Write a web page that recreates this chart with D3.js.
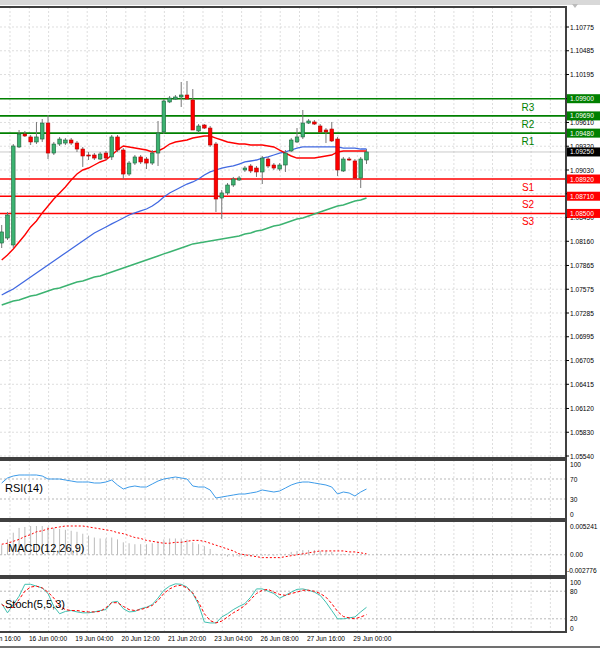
<!DOCTYPE html>
<html><head><meta charset="utf-8">
<script src="https://cdn.jsdelivr.net/npm/d3@7"></script>
<style>body{margin:0;background:#fff}svg{display:block;font-family:"Liberation Sans",Arial,sans-serif}</style>
</head><body>
<script>
// H4 candles
const openP = [1.08139,1.08200,1.08115,1.09311,1.09469,1.09433,1.09372,1.09408,1.09603,1.09237,1.09347,1.09359,1.09396,1.09359,1.09286,1.09213,1.09213,1.09164,1.09237,1.09189,1.09433,1.09274,1.08981,1.09115,1.09189,1.09164,1.09115,1.09237,1.09494,1.09860,1.09896,1.09921,1.09945,1.09884,1.09506,1.09579,1.09542,1.09347,1.08688,1.08750,1.08847,1.08908,1.09030,1.09079,1.09054,1.09006,1.09164,1.09091,1.09042,1.09091,1.09262,1.09372,1.09433,1.09603,1.09616,1.09567,1.09518,1.09530,1.09408,1.09018,1.09164,1.09140,1.08932,1.09152];
const highP = [1.08359,1.08518,1.09347,1.09518,1.09506,1.09457,1.09616,1.09652,1.09701,1.09372,1.09433,1.09420,1.09420,1.09384,1.09311,1.09250,1.09237,1.09250,1.09262,1.09457,1.09457,1.09298,1.09140,1.09213,1.09213,1.09189,1.09274,1.09628,1.09896,1.09933,1.09945,1.10104,1.10116,1.10018,1.09591,1.09591,1.09567,1.09372,1.08786,1.08871,1.08945,1.08957,1.09079,1.09103,1.09079,1.09201,1.09189,1.09115,1.09115,1.09274,1.09420,1.09542,1.09762,1.09652,1.09640,1.09591,1.09542,1.09616,1.09433,1.09189,1.09189,1.09164,1.09189,1.09286];
const lowP = [1.08078,1.08176,1.08078,1.09298,1.09433,1.09335,1.09347,1.09372,1.09164,1.09213,1.09323,1.09335,1.09335,1.09250,1.09067,1.09152,1.09152,1.09152,1.09152,1.09152,1.09250,1.08920,1.08957,1.09091,1.09103,1.09042,1.09091,1.09079,1.09469,1.09847,1.09884,1.09799,1.09896,1.09860,1.09481,1.09530,1.09311,1.08518,1.08432,1.08725,1.08823,1.08896,1.09006,1.08993,1.08945,1.08859,1.09054,1.09030,1.09018,1.09006,1.09250,1.09359,1.09408,1.09591,1.09579,1.09481,1.09359,1.09372,1.08957,1.09006,1.09140,1.08920,1.08810,1.09103];
const closeP = [1.08274,1.08481,1.09323,1.09469,1.09445,1.09372,1.09433,1.09603,1.09237,1.09347,1.09408,1.09396,1.09359,1.09286,1.09201,1.09207,1.09176,1.09225,1.09176,1.09433,1.09274,1.08981,1.09115,1.09189,1.09128,1.09115,1.09237,1.09481,1.09872,1.09908,1.09921,1.09945,1.09896,1.09518,1.09567,1.09542,1.09335,1.08676,1.08750,1.08847,1.08920,1.08932,1.09054,1.09018,1.09006,1.09176,1.09079,1.09054,1.09091,1.09237,1.09396,1.09433,1.09603,1.09628,1.09591,1.09494,1.09494,1.09384,1.09030,1.09164,1.09158,1.08932,1.09164,1.09250];

// moving averages
const maRed = [1.07932,1.07993,1.08066,1.08152,1.08237,1.08335,1.08408,1.08506,1.08591,1.08676,1.08750,1.08823,1.08908,1.08981,1.09030,1.09054,1.09091,1.09128,1.09152,1.09213,1.09274,1.09323,1.09311,1.09298,1.09286,1.09274,1.09250,1.09262,1.09298,1.09347,1.09372,1.09384,1.09396,1.09420,1.09433,1.09445,1.09445,1.09420,1.09396,1.09372,1.09359,1.09347,1.09347,1.09335,1.09335,1.09335,1.09323,1.09311,1.09274,1.09237,1.09201,1.09176,1.09176,1.09176,1.09176,1.09189,1.09201,1.09213,1.09250,1.09262,1.09262,1.09262,1.09262,1.09262];
const maBlue = [1.07505,1.07542,1.07578,1.07627,1.07676,1.07725,1.07773,1.07822,1.07871,1.07920,1.07969,1.08018,1.08066,1.08115,1.08164,1.08213,1.08262,1.08298,1.08335,1.08372,1.08408,1.08444,1.08481,1.08506,1.08530,1.08554,1.08591,1.08640,1.08701,1.08750,1.08786,1.08823,1.08859,1.08884,1.08920,1.08969,1.09006,1.09030,1.09054,1.09067,1.09079,1.09103,1.09128,1.09140,1.09152,1.09176,1.09189,1.09213,1.09237,1.09250,1.09274,1.09298,1.09311,1.09311,1.09311,1.09311,1.09311,1.09311,1.09311,1.09298,1.09298,1.09298,1.09286,1.09286];
const maGreen = [1.07383,1.07408,1.07432,1.07444,1.07468,1.07493,1.07505,1.07530,1.07554,1.07578,1.07590,1.07615,1.07639,1.07664,1.07676,1.07700,1.07725,1.07737,1.07761,1.07786,1.07810,1.07834,1.07859,1.07883,1.07908,1.07932,1.07957,1.07981,1.08006,1.08030,1.08054,1.08079,1.08103,1.08128,1.08140,1.08152,1.08164,1.08176,1.08188,1.08200,1.08213,1.08225,1.08249,1.08262,1.08286,1.08298,1.08322,1.08347,1.08359,1.08383,1.08408,1.08432,1.08444,1.08469,1.08493,1.08518,1.08542,1.08566,1.08591,1.08603,1.08627,1.08652,1.08664,1.08688];

const rsi = [62,72,76,78,78,78,78,76,70,70,70,68,66,64,64,64,62,62,64,68,58,50,54,56,54,54,60,66,70,72,74,72,70,56,54,54,48,32,34,36,38,40,40,42,44,48,46,44,46,52,58,62,64,64,62,60,58,54,40,44,42,36,44,50];
const macdHist = [0.00175,0.00280,0.00402,0.00489,0.00507,0.00524,0.00524,0.00524,0.00507,0.00489,0.00472,0.00454,0.00437,0.00419,0.00384,0.00349,0.00314,0.00297,0.00297,0.00314,0.00280,0.00227,0.00210,0.00192,0.00192,0.00192,0.00210,0.00245,0.00280,0.00297,0.00297,0.00297,0.00280,0.00227,0.00192,0.00157,0.00105,0.00017,-0.00017,-0.00035,-0.00035,-0.00035,-0.00035,-0.00035,-0.00017,-0.00017,-0.00017,-0.00017,0,0.00017,0.00052,0.00070,0.00087,0.00087,0.00087,0.00070,0.00070,0.00052,0.00017,0.00017,0.00017,0,0,0];
const macdSignal = [0.00192,0.00210,0.00245,0.00280,0.00332,0.00367,0.00419,0.00437,0.00472,0.00489,0.00507,0.00524,0.00524,0.00524,0.00524,0.00507,0.00489,0.00472,0.00454,0.00437,0.00402,0.00384,0.00349,0.00314,0.00297,0.00262,0.00245,0.00227,0.00210,0.00210,0.00227,0.00227,0.00245,0.00262,0.00262,0.00245,0.00210,0.00175,0.00140,0.00105,0.00070,0.00017,0,-0.00017,-0.00035,-0.00052,-0.00052,-0.00052,-0.00052,-0.00035,-0.00017,0,0.00017,0.00035,0.00052,0.00070,0.00070,0.00070,0.00070,0.00070,0.00052,0.00052,0.00035,0.00017];
const stochMain = [53,33,51,69,95,95,91,87,75,47,31,36,38,35,33,33,35,38,40,56,58,42,35,36,42,45,51,65,82,91,96,95,89,75,51,13,11,11,24,31,40,47,53,67,85,85,80,75,65,71,78,84,85,82,78,71,56,38,20,20,22,24,35,45];
const stochSignal = [51,44,45,62,80,89,91,87,78,65,47,40,38,38,36,35,35,36,44,55,55,47,40,38,40,44,49,60,75,85,91,93,87,76,56,31,16,11,15,24,33,40,49,62,75,82,84,78,73,71,75,78,82,82,80,75,67,53,36,25,22,20,24,29];

const priceTicks = [1.10775,1.10485,1.10195,1.09900,1.09610,1.09320,1.09030,1.08740,1.08450,1.08160,1.07865,1.07575,1.07285,1.06995,1.06705,1.06415,1.06120,1.05830,1.05540];
const levels = [
  {name:"R3", v:1.09900, c:"#008000"}, {name:"R2", v:1.09690, c:"#008000"}, {name:"R1", v:1.09480, c:"#008000"},
  {name:"S1", v:1.08920, c:"#ff0000"}, {name:"S2", v:1.08710, c:"#ff0000"}, {name:"S3", v:1.08500, c:"#ff0000"}
];
const timeLabels = ["15 Jun 16:00","16 Jun 00:00","19 Jun 04:00","20 Jun 12:00","21 Jun 20:00","23 Jun 04:00","26 Jun 08:00","27 Jun 16:00","29 Jun 00:00"];

const W = 600, H = 648, axisX = 566;
const svg = d3.select("body").append("svg").attr("width", W).attr("height", H);

const x = d3.scaleLinear().domain([0, 63]).range([1.7, 366.5]);
const y = d3.scaleLinear().domain([1.05540, 1.10775]).range([456, 27]);
const yRsi = d3.scaleLinear().domain([0, 100]).range([514, 464]);
const yMacd = d3.scaleLinear().domain([-0.002776, 0.005241]).range([570, 526]);
const ySto = d3.scaleLinear().domain([0, 100]).range([628, 582]);

const panels = [[7, 458], [460, 519], [521, 576], [578, 632]];

// top strip
svg.append("rect").attr("x",0).attr("y",0).attr("width",W).attr("height",5).attr("fill","#d8d8d8");
svg.append("path").attr("d","M572,4 L578,4 L575,8 Z").attr("fill","#bbb");

const grid = svg.append("g").attr("stroke","#d0d0d0").attr("stroke-dasharray","2,2").attr("stroke-width",0.7);
for (let gx = 10; gx < axisX; gx += 19.3) {
  panels.forEach(p => grid.append("line").attr("x1",gx).attr("x2",gx).attr("y1",p[0]).attr("y2",p[1]));
}
priceTicks.forEach(t => grid.append("line").attr("x1",0).attr("x2",axisX).attr("y1",y(t)).attr("y2",y(t)));
[70,30].forEach(t => grid.append("line").attr("x1",0).attr("x2",axisX).attr("y1",yRsi(t)).attr("y2",yRsi(t)).attr("stroke","#999"));
grid.append("line").attr("x1",0).attr("x2",axisX).attr("y1",yMacd(0)).attr("y2",yMacd(0)).attr("stroke","#999");
[80,20].forEach(t => grid.append("line").attr("x1",0).attr("x2",axisX).attr("y1",ySto(t)).attr("y2",ySto(t)).attr("stroke","#999"));

// current price line
svg.append("line").attr("x1",0).attr("x2",axisX).attr("y1",y(closeP[63])).attr("y2",y(closeP[63])).attr("stroke","#bbb").attr("stroke-width",0.8);

// levels
levels.forEach(l => {
  svg.append("line").attr("x1",0).attr("x2",axisX).attr("y1",y(l.v)).attr("y2",y(l.v))
    .attr("stroke",l.c).attr("stroke-width",1.6);
  svg.append("text").attr("x",528).attr("y",y(l.v)+12).attr("text-anchor","middle")
    .attr("font-size",10).attr("fill",l.c).text(l.name);
});

// moving averages
const maLine = arr => d3.line().x((d,i)=>x(i)).y(d=>y(d))(arr);
svg.append("path").attr("d",maLine(maGreen)).attr("fill","none").attr("stroke","#3cb371").attr("stroke-width",1.5);
svg.append("path").attr("d",maLine(maBlue)).attr("fill","none").attr("stroke","#4169e1").attr("stroke-width",1.3);
svg.append("path").attr("d",maLine(maRed)).attr("fill","none").attr("stroke","#ff0000").attr("stroke-width",1.4);

// candles
const cg = svg.append("g");
openP.forEach((o,i) => {
  const c = closeP[i], up = c >= o;
  cg.append("line").attr("x1",x(i)).attr("x2",x(i)).attr("y1",y(highP[i])).attr("y2",y(lowP[i]))
    .attr("stroke","#777").attr("stroke-width",1);
  const top = y(Math.max(o,c)), bot = y(Math.min(o,c));
  cg.append("rect").attr("x",x(i)-1.8).attr("y",top).attr("width",3.6).attr("height",Math.max(1,bot-top))
    .attr("fill", up ? "#3cb371" : "#ff0000").attr("stroke", up ? "#1d5e3a" : "#b00000").attr("stroke-width",0.6);
});

// RSI
svg.append("path").attr("d",d3.line().x((d,i)=>x(i)).y(d=>yRsi(d))(rsi)).attr("fill","none").attr("stroke","#3d9be9").attr("stroke-width",1);
// MACD
macdHist.forEach((v,i) => svg.append("line").attr("x1",x(i)).attr("x2",x(i)).attr("y1",yMacd(0)).attr("y2",yMacd(v)).attr("stroke","#bbb").attr("stroke-width",1));
svg.append("path").attr("d",d3.line().x((d,i)=>x(i)).y(d=>yMacd(d))(macdSignal)).attr("fill","none").attr("stroke","#ff0000").attr("stroke-dasharray","2,2").attr("stroke-width",1);
// Stoch
svg.append("path").attr("d",d3.line().x((d,i)=>x(i)).y(d=>ySto(d))(stochMain)).attr("fill","none").attr("stroke","#40c0b0").attr("stroke-width",1);
svg.append("path").attr("d",d3.line().x((d,i)=>x(i)).y(d=>ySto(d))(stochSignal)).attr("fill","none").attr("stroke","#ff0000").attr("stroke-dasharray","3,2").attr("stroke-width",1);

// panel labels
const lab = (t,px,py) => svg.append("text").attr("x",px).attr("y",py).attr("font-size",11).attr("fill","#000").text(t);
lab("RSI(14)",5,492); lab("MACD(12,26,9)",8,552); lab("Stoch(5,5,3)",5,608);

// panel frames
svg.append("g").attr("fill","none").attr("stroke","#404040").attr("stroke-width",2)
  .selectAll("rect").data(panels).join("rect")
  .attr("x",-1).attr("y",d=>d[0]).attr("width",axisX+1).attr("height",d=>d[1]-d[0]);
svg.append("line").attr("x1",0).attr("x2",W).attr("y1",647).attr("y2",647).attr("stroke","#404040").attr("stroke-width",1.5);

// right axes (tick labels hidden under a level box are left out, as in the reference)
const boxed = levels.map(l => l.v).concat([closeP[63]]);
const ax = svg.append("g").attr("font-size",6.6).attr("fill","#000");
priceTicks.forEach(t => {
  ax.append("line").attr("x1",axisX).attr("x2",axisX+3).attr("y1",y(t)).attr("y2",y(t)).attr("stroke","#000");
  if (boxed.some(b => Math.abs(y(b) - y(t)) < 4)) return;
  ax.append("text").attr("x",570).attr("y",y(t)+2.5).text(t.toFixed(5));
});
[[100,yRsi],[70,yRsi],[30,yRsi],[0,yRsi],[100,ySto],[80,ySto],[20,ySto],[0,ySto]].forEach(([v,s]) =>
  ax.append("text").attr("x",570).attr("y",s(v)+2.5).text(v));
[[0.005241,"0.005241"],[0,"0.00"],[-0.002776,"-0.002776"]].forEach(([v,t]) =>
  ax.append("text").attr("x",t[0]==="-"?567:570).attr("y",yMacd(v)+2.5).text(t));

// level boxes on the axis
const box = (v,fill) => {
  ax.append("rect").attr("x",axisX+1).attr("y",y(v)-4.5).attr("width",33).attr("height",9).attr("fill",fill);
  ax.append("text").attr("x",570).attr("y",y(v)+2.5).attr("fill","#fff").text(v.toFixed(5));
};
levels.forEach(l => box(l.v, l.c));
box(closeP[63], "#000");

// time axis
timeLabels.forEach((t,k) => svg.append("text").attr("x",x(k*8)).attr("y",641).attr("text-anchor","middle")
  .attr("font-size",6.6).text(t));
</script>
</body></html>
